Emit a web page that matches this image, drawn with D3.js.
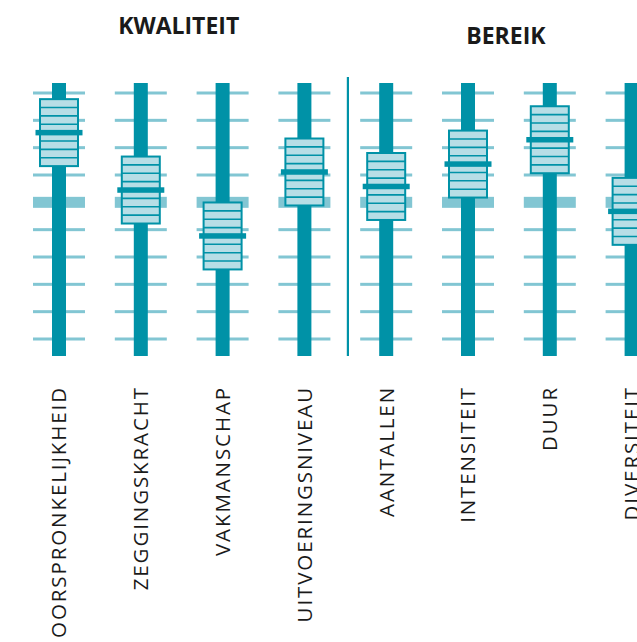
<!DOCTYPE html>
<html>
<head>
<meta charset="utf-8">
<script src="https://cdn.jsdelivr.net/npm/d3@7"></script>
<style>
  html, body { margin: 0; padding: 0; background: #ffffff; }
  svg { display: block; }
</style>
</head>
<body>
<svg id="chart" width="637" height="642"></svg>
<script>
// ---- data ----
const categories = ["OORSPRONKELIJKHEID", "ZEGGINGSKRACHT", "VAKMANSCHAP", "UITVOERINGSNIVEAU",
                    "AANTALLEN", "INTENSITEIT", "DUUR", "DIVERSITEIT"];
const groups = ["KWALITEIT", "KWALITEIT", "KWALITEIT", "KWALITEIT",
                "BEREIK", "BEREIK", "BEREIK", "BEREIK"];
const groupNames = ["KWALITEIT", "BEREIK"];
const values = [7.55, 5.45, 3.77, 6.11, 5.58, 6.40, 7.29, 4.67];
const tickLevels = [0, 1, 2, 3, 4, 5, 6, 7, 8, 9];
const referenceLevel = 5;

// ---- style ----
const C_BAR = "#0092a7";
const C_TICK = "#82c6d3";
const C_CELL = "#b7dee6";
const C_TEXT = "#1a1a1a";

const svg = d3.select("#chart");

const x = d3.scalePoint().domain(categories).range([59, 631.6]);
const y = d3.scaleLinear().domain([0, 9]).range([339, 93]);
const step = y(0) - y(1);

const tickW = 52, barW = 14, boxW = 38, boxH = step * 2.45, markW = 47, markH = 5.5;

const col = svg.selectAll("g.col").data(categories).enter().append("g")
  .attr("class", "col")
  .attr("transform", d => `translate(${x(d)},0)`);

// tick lines
col.selectAll("rect.tick").data(tickLevels).enter().append("rect")
  .attr("class", "tick")
  .attr("x", -tickW / 2)
  .attr("width", tickW)
  .attr("y", t => y(t) - (t === referenceLevel ? 5.5 : 1.5))
  .attr("height", t => t === referenceLevel ? 11 : 3)
  .attr("fill", C_TICK);

// vertical bar
col.append("rect")
  .attr("x", -barW / 2)
  .attr("width", barW)
  .attr("y", y(9) - 10)
  .attr("height", (y(0) + 17) - (y(9) - 10))
  .attr("fill", C_BAR);

// slider box
const knob = col.append("g")
  .attr("transform", (d, i) => `translate(0,${y(values[i])})`);

knob.append("rect")
  .attr("x", -boxW / 2)
  .attr("y", -boxH / 2)
  .attr("width", boxW)
  .attr("height", boxH)
  .attr("fill", C_CELL)
  .attr("stroke", C_BAR)
  .attr("stroke-width", 2);

knob.selectAll("line.sep").data(d3.range(1, 8)).enter().append("line")
  .attr("x1", -boxW / 2)
  .attr("x2", boxW / 2)
  .attr("y1", k => -boxH / 2 + boxH * k / 8)
  .attr("y2", k => -boxH / 2 + boxH * k / 8)
  .attr("stroke", C_BAR)
  .attr("stroke-width", 1.6);

knob.append("rect")
  .attr("x", -markW / 2)
  .attr("y", -markH / 2)
  .attr("width", markW)
  .attr("height", markH)
  .attr("fill", C_BAR);

// labels
col.append("text")
  .attr("transform", "translate(0,386) rotate(-90)")
  .attr("dy", "0.36em")
  .attr("text-anchor", "end")
  .attr("font-family", "'Open Sans', sans-serif")
  .attr("font-size", 20.5)
  .attr("letter-spacing", 1.9)
  .attr("fill", C_TEXT)
  .text(d => d);

// divider
const divX = (x(categories[3]) + x(categories[4])) / 2 + 2.5;
svg.append("rect")
  .attr("x", divX - 1)
  .attr("y", 77)
  .attr("width", 2.2)
  .attr("height", 279)
  .attr("fill", C_BAR);

// group titles
const titleY = [34, 44];
groupNames.forEach((g, gi) => {
  const members = categories.filter((c, i) => groups[i] === g);
  const cx = (x(members[0]) + x(members[members.length - 1])) / 2 - 3;
  svg.append("text")
    .attr("x", cx)
    .attr("y", titleY[gi])
    .attr("text-anchor", "middle")
    .attr("font-family", "'Open Sans', sans-serif")
    .attr("font-weight", "bold")
    .attr("font-size", 23)
    .attr("fill", C_TEXT)
    .text(g);
});
</script>
</body>
</html>
